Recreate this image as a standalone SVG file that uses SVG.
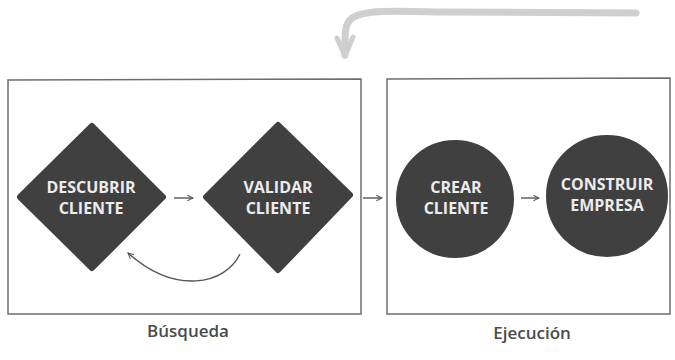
<svg xmlns="http://www.w3.org/2000/svg" width="675" height="360" viewBox="0 0 675 360">
<defs>
<style>
.box{fill:none;stroke:#6e6e6e;stroke-width:1.5}
.node{fill:#404040;stroke:#404040;stroke-width:6;stroke-linejoin:round}
.nt{font-family:"Open Sans","Liberation Sans",sans-serif;font-weight:700;font-size:16px;fill:#ececec;text-anchor:middle}
.lbl{font-family:"Open Sans","Liberation Sans",sans-serif;font-weight:600;font-size:17px;fill:#4a4a4a;text-anchor:middle}
.con{fill:none;stroke:#555;stroke-width:1.4}
</style>
<marker id="ah" viewBox="0 0 10 10" refX="9" refY="5" markerWidth="7" markerHeight="7" orient="auto-start-reverse" markerUnits="userSpaceOnUse">
<path d="M1,1 L9,5 L1,9" fill="none" stroke="#555" stroke-width="1.5"/>
</marker>
</defs>
<rect width="675" height="360" fill="#fff"/>
<g id="busqueda">
<path class="box" d="M8,80 L361,79 L361,314 L8,314 Z"/>
<text class="lbl" x="188" y="337">Búsqueda</text>
</g>
<g id="ejecucion">
<path class="box" d="M387,79 L670,78 L670,314 L387,314 Z"/>
<text class="lbl" x="532" y="339">Ejecución</text>
</g>
<g id="descubrir">
<path class="node" d="M92,126 L163,197 L92,268 L20,197 Z"/>
<text class="nt" x="91" y="193">DESCUBRIR</text>
<text class="nt" x="91" y="214">CLIENTE</text>
</g>
<g id="validar">
<path class="node" d="M278,125 L350,195 L278,270 L206,197 Z"/>
<text class="nt" x="278" y="193">VALIDAR</text>
<text class="nt" x="278" y="214">CLIENTE</text>
</g>
<g id="crear">
<circle class="node" cx="455" cy="199" r="56"/>
<text class="nt" x="456" y="193">CREAR</text>
<text class="nt" x="456" y="214">CLIENTE</text>
</g>
<g id="construir">
<circle class="node" cx="607" cy="196" r="58"/>
<text class="nt" x="607" y="190">CONSTRUIR</text>
<text class="nt" x="607" y="211">EMPRESA</text>
</g>
<g id="connectors">
<path class="con" d="M174,198 L193,198" marker-end="url(#ah)"/>
<path class="con" d="M363,198 L382,198" marker-end="url(#ah)"/>
<path class="con" d="M521,198 L539,198" marker-end="url(#ah)"/>
<path class="con" d="M240,254 C225,285 175,295 128,253" marker-end="url(#ah)"/>
<path d="M636,13 L440,12 C400,11 365,9 352,18 C344,24 345,35 345,55" fill="none" stroke="#cfcfcf" stroke-width="7" stroke-linecap="round"/>
<path d="M337,38 L345,56 L353,37" fill="none" stroke="#cfcfcf" stroke-width="5" stroke-linecap="round" stroke-linejoin="round"/>
</g>
</svg>
